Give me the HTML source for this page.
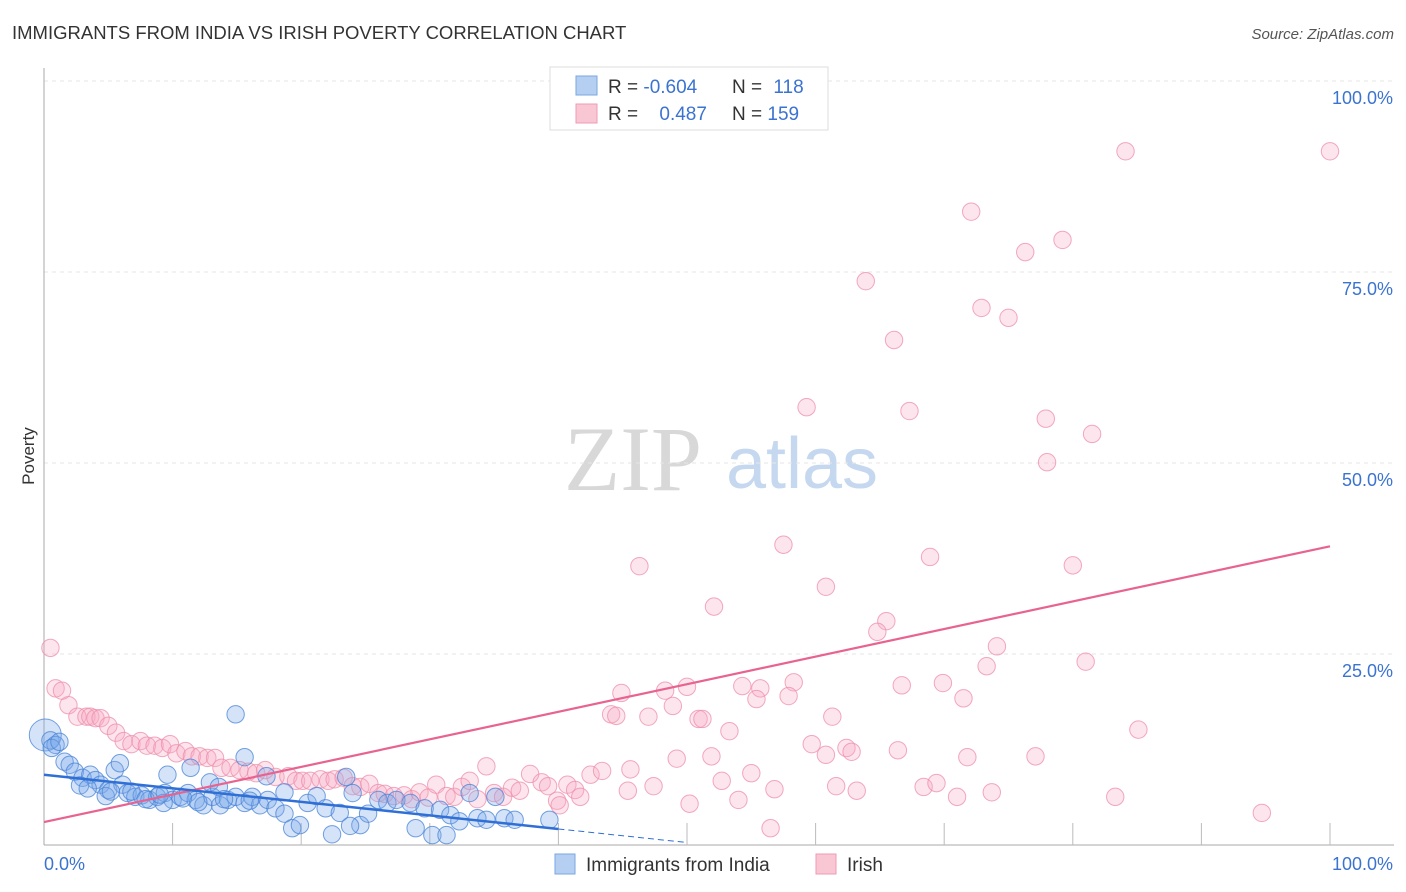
<!DOCTYPE html>
<html><head><meta charset="utf-8"><style>
body{margin:0;background:#fff;font-family:"Liberation Sans",sans-serif}
#wrap{position:relative;width:1406px;height:892px;overflow:hidden}
</style></head><body><div id="wrap">
<svg id="svg" width="1406" height="892" xmlns="http://www.w3.org/2000/svg">
<text x="12" y="39" font-size="18.5" fill="#333">IMMIGRANTS FROM INDIA VS IRISH POVERTY CORRELATION CHART</text>
<text x="1394" y="39" font-size="15" fill="#555" font-style="italic" text-anchor="end">Source: ZipAtlas.com</text>
<text x="34" y="456" font-size="17" fill="#333" transform="rotate(-90 34 456)" text-anchor="middle">Poverty</text>
<g><text x="633" y="490" font-family="Liberation Serif,serif" font-size="92" fill="#d8d8d8" text-anchor="middle">ZIP</text><text x="802" y="488" font-size="72" fill="#c6d8ef" text-anchor="middle">atlas</text></g>
<g id="grid"></g><g id="marks"></g><g id="lines"></g>
<g>
<rect x="550" y="67" width="278" height="63" fill="#fff" stroke="#ddd"/>
<rect x="576" y="76" width="21" height="19" fill="#b5cff3" stroke="#7aa7e0"/>
<rect x="576" y="104" width="21" height="19" fill="#f9c6d4" stroke="#ee9bb4"/>
<text x="608" y="93" font-size="19" fill="#333">R = <tspan fill="#3b73d0">-0.604</tspan></text>
<text x="732" y="93" font-size="19" fill="#333">N = <tspan fill="#3b73d0" dx="6">118</tspan></text>
<text x="608" y="120" font-size="19" fill="#333">R = <tspan fill="#3b73d0" dx="16">0.487</tspan></text>
<text x="732" y="120" font-size="19" fill="#333">N = <tspan fill="#3b73d0">159</tspan></text>
</g>
<g>
<rect x="555" y="854" width="20" height="20" fill="#b5cff3" stroke="#7aa7e0"/>
<text x="586" y="871" font-size="19" fill="#333">Immigrants from India</text>
<rect x="816" y="854" width="20" height="20" fill="#f9c6d4" stroke="#ee9bb4"/>
<text x="847" y="871" font-size="19" fill="#333">Irish</text>
</g>
</svg></div>
<script>
const yTicks=[25,50,75,100];
const yTickLabels=["25.0%","50.0%","75.0%","100.0%"];
const xTicks=[0,10,20,30,40,50,60,70,80,90,100];
const xTickLabels=["0.0%","100.0%"];
const indiaX=[0.1,0.5,0.9,0.6,1.2,1.6,2.0,2.4,3.0,3.6,4.0,4.4,5.0,5.5,6.1,6.5,7.1,7.6,8.2,8.8,9.4,10.0,10.6,11.2,11.8,12.4,13.1,13.7,14.3,14.9,15.6,16.2,16.8,17.4,18.0,18.7,19.3,19.9,20.5,21.2,21.9,22.4,23.0,23.5,24.0,24.6,25.2,26.0,26.7,27.4,28.5,28.9,29.6,30.2,30.8,31.6,32.3,33.1,33.7,34.4,35.1,35.8,36.6,39.3,14.9,5.9,9.6,11.4,9.3,15.6,12.9,13.6,17.3,18.7,23.8,31.3,2.8,4.8,6.8,7.9,9.0,10.8,12.0,14.0,16.0,3.4,5.2];
const indiaY=[14.4,13.7,13.1,12.7,13.5,10.9,10.5,9.6,8.8,9.2,8.5,7.9,7.2,9.8,7.9,6.8,6.3,6.5,5.9,6.3,6.8,5.9,6.3,6.8,5.9,5.2,6.3,5.2,5.9,6.3,5.5,6.3,5.2,5.9,4.8,4.1,2.2,2.6,5.5,6.4,4.8,1.4,4.2,8.9,6.8,2.6,4.1,5.9,5.5,5.9,5.5,2.2,4.8,1.3,4.6,3.9,3.1,6.8,3.5,3.3,6.3,3.5,3.3,3.3,17.1,10.7,9.2,10.1,5.5,11.5,8.2,7.6,9.0,6.9,2.5,1.3,7.8,6.4,7.0,6.0,6.6,6.1,5.6,6.0,5.8,7.4,7.0];
const irishX=[1.9,2.6,3.3,3.6,4.0,4.4,5.0,5.6,6.2,6.8,7.5,8.0,8.6,9.2,9.8,10.3,11.0,11.5,12.1,12.7,13.3,13.8,14.5,15.2,15.9,16.5,17.2,18.0,19.0,19.6,20.1,20.7,21.5,22.1,22.6,23.3,24.0,24.6,25.3,26.0,26.5,27.2,28.0,28.6,29.2,29.9,30.5,31.3,31.9,32.5,33.1,33.7,34.4,35.0,35.7,36.4,37.0,37.8,38.7,39.2,39.9,40.7,41.3,42.5,43.4,41.7,40.1,0.5,0.9,1.4,
44.9,48.3,50.0,54.3,55.7,58.3,66.7,69.9,71.5,55.4,57.9,44.1,44.5,47.0,48.9,50.9,51.2,53.3,61.3,59.7,60.8,62.4,62.8,66.4,85.1,77.1,71.8,51.9,49.2,52.7,55.0,45.6,61.6,63.2,68.4,69.4,45.4,47.4,50.2,54.0,56.8,71.0,73.7,83.3,94.7,56.5,
84.1,100,72.1,79.2,76.3,63.9,72.9,75.0,66.1,59.3,67.3,77.9,81.5,78.0,57.5,68.9,46.3,80.0,60.8,52.1,65.5,64.8,74.1,73.3,81.0];
const irishY=[18.3,16.8,16.8,16.8,16.6,16.6,15.6,14.7,13.6,13.2,13.6,13.0,13.0,12.7,13.2,12.0,12.3,11.6,11.6,11.4,11.4,10.1,10.1,9.8,9.6,9.4,9.8,8.9,9.0,8.4,8.4,8.4,8.6,8.4,8.6,8.8,7.7,7.6,8.0,6.8,6.7,6.4,6.5,6.0,6.9,6.2,7.9,6.4,6.3,7.6,8.4,6.0,10.3,6.8,6.3,7.5,7.1,9.3,8.2,7.7,5.8,7.9,7.2,9.2,9.7,6.3,5.2,25.8,20.5,20.2,
19.9,20.2,20.7,20.8,20.5,21.3,20.9,21.2,19.2,19.1,19.5,17.1,16.9,16.8,18.2,16.5,16.5,14.9,16.8,13.2,11.8,12.7,12.2,12.4,15.1,11.6,11.5,11.6,11.3,8.4,9.4,9.9,7.7,7.1,7.6,8.1,7.1,7.7,5.4,5.9,7.3,6.3,6.9,6.3,4.2,2.2,
90.8,90.8,82.9,79.2,77.6,73.8,70.3,69.0,66.1,57.3,56.8,55.8,53.8,50.1,39.3,37.7,36.5,36.6,33.8,31.2,29.3,27.9,26.0,23.4,24.0];
const indiaTrend=[9.2,-0.1775];
const irishTrend=[3.0,0.361];
const NS="http://www.w3.org/2000/svg";
const X=v=>44+v*12.86, Y=v=>845-v*7.64;
function mk(t,a,p){const e=document.createElementNS(NS,t);for(const k in a)e.setAttribute(k,a[k]);p.appendChild(e);return e;}
const grid=document.getElementById('grid'),marks=document.getElementById('marks'),lines=document.getElementById('lines'),svg=document.getElementById('svg');
yTicks.forEach((t,i)=>{const l=mk('line',{x1:44,x2:1394,y1:Y(t),y2:Y(t),stroke:'#e6e6e6','stroke-dasharray':'4,4'},grid);


const tx=mk('text',{x:1393,y:Y(t)+23,'font-size':18,fill:'#3b73d0','text-anchor':'end'},grid);tx.textContent=yTickLabels[i];

});
const ax=mk('line',{x1:44,x2:1394,y1:845,y2:845,stroke:'#aaa'},grid);


const ay=mk('line',{x1:44,x2:44,y1:68,y2:845,stroke:'#aaa'},grid);


xTicks.forEach(t=>{if(t===0)return;const l=mk('line',{x1:X(t),x2:X(t),y1:823,y2:845,stroke:'#bbb'},grid);

});
const xl0=mk('text',{x:44,y:870,'font-size':18,fill:'#3b73d0'},grid);xl0.textContent=xTickLabels[0];


const xl1=mk('text',{x:1393,y:870,'font-size':18,fill:'#3b73d0','text-anchor':'end'},grid);xl1.textContent=xTickLabels[1];


irishX.forEach((x,i)=>{const c=mk('circle',{cx:X(x),cy:Y(irishY[i]),r:8.7,fill:'rgba(247,170,196,0.3)',stroke:'rgba(238,140,170,0.75)','stroke-width':1},marks);

});
indiaX.forEach((x,i)=>{const c=mk('circle',{cx:X(x),cy:Y(indiaY[i]),r:i===0?16:8.7,fill:'rgba(120,168,232,0.32)',stroke:'rgba(70,130,215,0.75)','stroke-width':1},marks);

});
const pl=mk('line',{x1:X(0),y1:Y(irishTrend[0]),x2:X(100),y2:Y(irishTrend[0]+irishTrend[1]*100),stroke:'#e8638f','stroke-width':2.2},lines);


const bl=mk('line',{x1:X(0),y1:Y(indiaTrend[0]),x2:X(40),y2:Y(indiaTrend[0]+indiaTrend[1]*40),stroke:'#2f6fd6','stroke-width':2.5},lines);


const bd=mk('line',{x1:X(40),y1:Y(indiaTrend[0]+indiaTrend[1]*40),x2:X(50),y2:Y(indiaTrend[0]+indiaTrend[1]*50),stroke:'#2f6fd6','stroke-width':1,'stroke-dasharray':'6,4'},lines);


</script></body></html>
